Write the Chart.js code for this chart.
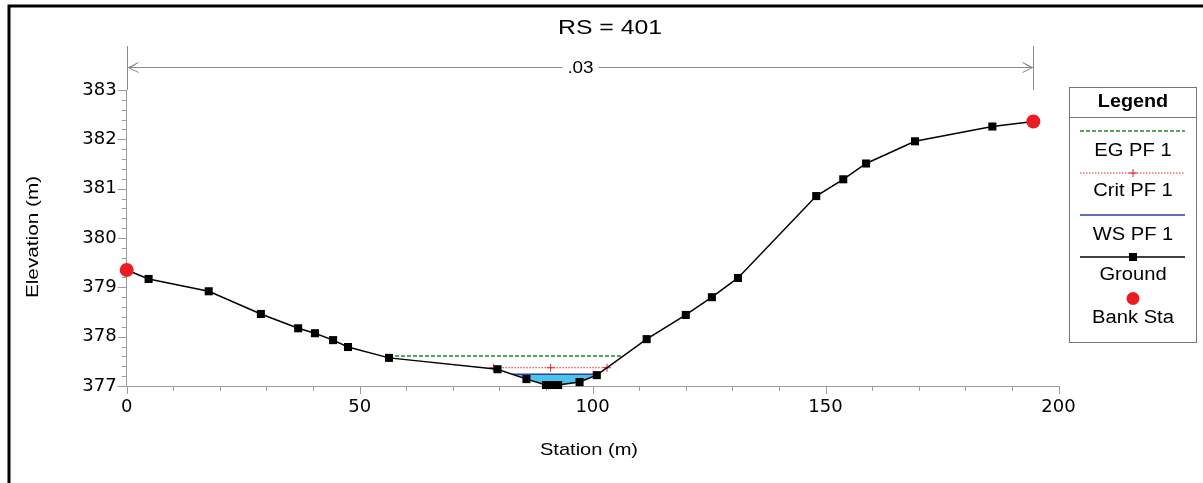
<!DOCTYPE html>
<html><head><meta charset="utf-8">
<script src="https://cdn.jsdelivr.net/npm/chart.js@4.4.1/dist/chart.umd.min.js"></script>
<style>html,body{margin:0;padding:0;background:#fff;overflow:hidden}canvas{display:block}</style>
</head><body>
<canvas id="c" width="1203" height="483"></canvas>
<script>
// ---- data ----
const chartTitle = 'RS = 401';
const xTitle = 'Station (m)';
const yTitle = 'Elevation (m)';
const nValueLabel = '.03';
const xTicks = [0, 50, 100, 150, 200];
const yTicks = [377, 378, 379, 380, 381, 382, 383];
const groundStation = [0, 4.7, 17.6, 28.8, 36.8, 40.4, 44.3, 47.5, 56.3, 79.6, 85.8, 90.0, 91.3, 92.6, 97.2, 100.9, 111.6, 120.0, 125.6, 131.2, 148.0, 153.8, 158.7, 169.2, 185.8, 194.6];
const groundElev = [379.35, 379.17, 378.92, 378.46, 378.17, 378.07, 377.93, 377.79, 377.57, 377.34, 377.14, 377.02, 377.02, 377.02, 377.08, 377.22, 377.95, 378.44, 378.80, 379.19, 380.85, 381.19, 381.51, 381.96, 382.26, 382.36];
const bankStation = [0, 194.6];
const bankElev = [379.35, 382.36];
const wsStation = [82.7, 101.0];
const wsElev = [377.24, 377.24];
const critStation = [78.7, 91.0, 103.1];
const critElev = [377.37, 377.37, 377.37];
const egStation = [56.3, 106.6];
const egElev = [377.61, 377.61];
const legendLabels = ['EG PF 1', 'Crit PF 1', 'WS PF 1', 'Ground', 'Bank Sta'];

// ---- build datasets ----
const pts = (xs, ys) => xs.map((x, i) => ({x: x, y: ys[i]}));
const waterPoly = [{x: wsStation[0], y: wsElev[0]}]
  .concat(pts(groundStation, groundElev).filter(p => p.x > wsStation[0] && p.x < wsStation[1]))
  .concat([{x: wsStation[1], y: wsElev[1]}, {x: wsStation[0], y: wsElev[0]}]);

const C = {eg: '#1f8a2a', crit: '#e8202a', ws: '#2c3ea8', ground: '#000', bank: '#ec1c24', water: '#4cc4e8', axis: '#9c9c9c'};
const FONT = '"Liberation Sans", Arial, sans-serif';
const SX = 1.18;

function sText(ctx, text, x, y, size, opts) {
  opts = opts || {};
  ctx.save();
  ctx.translate(x, y);
  if (opts.rot) ctx.rotate(opts.rot);
  ctx.scale(opts.sx || SX, 1);
  ctx.font = (opts.bold ? 'bold ' : '') + size + 'px ' + FONT;
  ctx.textAlign = opts.align || 'center';
  ctx.textBaseline = 'middle';
  ctx.fillStyle = '#000';
  ctx.fillText(text, 0, 0);
  ctx.restore();
}

const decor = {
  id: 'decor',
  beforeDatasetsDraw(chart) {
    const ctx = chart.ctx, xs = chart.scales.x, ys = chart.scales.y;
    ctx.save();
    ctx.strokeStyle = C.axis; ctx.lineWidth = 1;
    ctx.beginPath();
    const yMin = yTicks[0], yMax = yTicks[yTicks.length - 1];
    for (let k = 0; k <= Math.round((yMax - yMin) / 0.2); k++) {
      const v = yMin + k * 0.2;
      const major = k % 5 === 0;
      const py = Math.round(ys.getPixelForValue(v)) + 0.5;
      ctx.moveTo(xs.left - (major ? 9 : 5), py); ctx.lineTo(xs.left, py);
    }
    const xMin = xTicks[0], xMax = xTicks[xTicks.length - 1];
    for (let k = 0; k <= Math.round((xMax - xMin) / 10); k++) {
      const v = xMin + k * 10;
      const major = k % 5 === 0;
      const px = Math.round(xs.getPixelForValue(v)) + 0.5;
      ctx.moveTo(px, ys.bottom); ctx.lineTo(px, ys.bottom + (major ? 8 : 5));
    }
    ctx.stroke();
    ctx.restore();
  },
  afterDraw(chart) {
    const ctx = chart.ctx, xs = chart.scales.x, ys = chart.scales.y;
    ctx.save();
    // outer frame
    ctx.strokeStyle = '#000'; ctx.lineWidth = 3;
    ctx.beginPath(); ctx.moveTo(9, 490); ctx.lineTo(9, 6); ctx.lineTo(1210, 6); ctx.stroke();
    // titles
    sText(ctx, chartTitle, 610, 28, 21);
    sText(ctx, xTitle, 589, 450, 17);
    sText(ctx, yTitle, 33, 237, 17, {rot: -Math.PI / 2, sx: 1.22});
    // n-value annotation
    const xl = Math.round(xs.getPixelForValue(bankStation[0])) + 0.5;
    const xr = Math.round(xs.getPixelForValue(bankStation[1])) + 0.5;
    const ya = 67.5;
    ctx.strokeStyle = '#8a8a8a'; ctx.lineWidth = 1;
    ctx.beginPath();
    ctx.moveTo(xl, 46); ctx.lineTo(xl, ys.top);
    ctx.moveTo(xr, 46); ctx.lineTo(xr, ys.top);
    ctx.moveTo(xl, ya); ctx.lineTo(xr, ya);
    ctx.moveTo(xl + 11, ya - 5); ctx.lineTo(xl + 1, ya); ctx.lineTo(xl + 11, ya + 5);
    ctx.moveTo(xl + 9, ya - 4); ctx.lineTo(xl + 3, ya);
    ctx.moveTo(xr - 11, ya - 5); ctx.lineTo(xr - 1, ya); ctx.lineTo(xr - 11, ya + 5);
    ctx.moveTo(xr - 9, ya - 4); ctx.lineTo(xr - 3, ya);
    ctx.stroke();
    const xm = (xl + xr) / 2;
    ctx.fillStyle = '#fff'; ctx.fillRect(xm - 18, ya - 9, 36, 18);
    sText(ctx, nValueLabel, xm, ya + 1, 16);
    // legend
    const L = 1069.5, T = 87.5, W = 127, H = 255, cx = L + W / 2;
    ctx.fillStyle = '#fff'; ctx.fillRect(L, T, W, H);
    ctx.strokeStyle = '#777'; ctx.lineWidth = 1;
    ctx.strokeRect(L, T, W, H);
    ctx.beginPath(); ctx.moveTo(L, 117.5); ctx.lineTo(L + W, 117.5); ctx.stroke();
    sText(ctx, 'Legend', cx, 102, 18, {bold: true, sx: 1.1});
    const x0 = 1080, x1 = 1185;
    ctx.lineWidth = 1.5;
    // EG
    ctx.strokeStyle = C.eg; ctx.setLineDash([4, 2]);
    ctx.beginPath(); ctx.moveTo(x0, 131); ctx.lineTo(x1, 131); ctx.stroke();
    // Crit
    ctx.strokeStyle = C.crit; ctx.setLineDash([1.5, 1.5]); ctx.lineWidth = 1;
    ctx.beginPath(); ctx.moveTo(x0, 173); ctx.lineTo(x1, 173); ctx.stroke();
    ctx.setLineDash([]);
    ctx.beginPath(); ctx.moveTo(cx, 169); ctx.lineTo(cx, 177); ctx.moveTo(cx - 4, 173); ctx.lineTo(cx + 4, 173); ctx.stroke();
    // WS
    ctx.strokeStyle = C.ws; ctx.lineWidth = 1.5;
    ctx.beginPath(); ctx.moveTo(x0, 215); ctx.lineTo(x1, 215); ctx.stroke();
    // Ground
    ctx.strokeStyle = C.ground;
    ctx.beginPath(); ctx.moveTo(x0, 257); ctx.lineTo(x1, 257); ctx.stroke();
    ctx.fillStyle = '#000'; ctx.fillRect(cx - 4, 253, 8, 8);
    // Bank
    ctx.fillStyle = C.bank; ctx.beginPath(); ctx.arc(cx, 298.5, 6.5, 0, Math.PI * 2); ctx.fill();
    const ty = [151, 191, 235, 275, 318];
    legendLabels.forEach((t, i) => sText(ctx, t, cx, ty[i], 18, {sx: 1.12}));
    ctx.restore();
  }
};

new Chart(document.getElementById('c'), {
  type: 'scatter',
  data: {
    datasets: [
      {label: 'Bank Sta', data: pts(bankStation, bankElev), showLine: false, pointStyle: 'circle', pointRadius: 7, pointBackgroundColor: C.bank, pointBorderWidth: 0, clip: false},
      {label: 'Ground', data: pts(groundStation, groundElev), showLine: true, borderColor: C.ground, borderWidth: 1.5, pointStyle: 'rect', pointRadius: 5.7, pointBackgroundColor: '#000', pointBorderWidth: 0, clip: false},
      {label: 'WS PF 1', data: pts(wsStation, wsElev), showLine: true, borderColor: C.ws, borderWidth: 1.5, pointRadius: 0},
      {label: 'Crit PF 1', data: pts(critStation, critElev), showLine: true, borderColor: C.crit, borderWidth: 1, borderDash: [1.5, 1.5], pointStyle: 'cross', pointRadius: 4, pointBorderColor: C.crit, pointBorderWidth: 1},
      {label: 'EG PF 1', data: pts(egStation, egElev), showLine: true, borderColor: C.eg, borderWidth: 1.5, borderDash: [4, 2], pointRadius: 0},
      {label: 'water', data: waterPoly, showLine: true, borderWidth: 0, borderColor: 'rgba(0,0,0,0)', backgroundColor: C.water, fill: 'shape', pointRadius: 0}
    ]
  },
  options: {
    responsive: false, animation: false, devicePixelRatio: 1,
    layout: {padding: {left: 0, right: 144.5, top: 90, bottom: 0}},
    plugins: {legend: {display: false}, title: {display: false}, tooltip: {enabled: false}},
    scales: {
      x: {
        type: 'linear', min: xTicks[0], max: xTicks[xTicks.length - 1],
        afterBuildTicks: s => { s.ticks = xTicks.map(v => ({value: v})); },
        afterFit: s => { s.height = 97; },
        grid: {display: false, drawTicks: false},
        border: {display: true, color: C.axis, width: 1},
        ticks: {color: '#000', padding: 11, maxRotation: 0, font: {family: '"DejaVu Sans", sans-serif', size: 18}}
      },
      y: {
        type: 'linear', min: yTicks[0], max: yTicks[yTicks.length - 1],
        afterBuildTicks: s => { s.ticks = yTicks.map(v => ({value: v})); },
        afterFit: s => { s.width = 126.7; },
        grid: {display: false, drawTicks: false},
        border: {display: true, color: C.axis, width: 1},
        ticks: {color: '#000', padding: 10, font: {family: '"DejaVu Sans", sans-serif', size: 18}}
      }
    }
  },
  plugins: [decor]
});
</script>
</body></html>
